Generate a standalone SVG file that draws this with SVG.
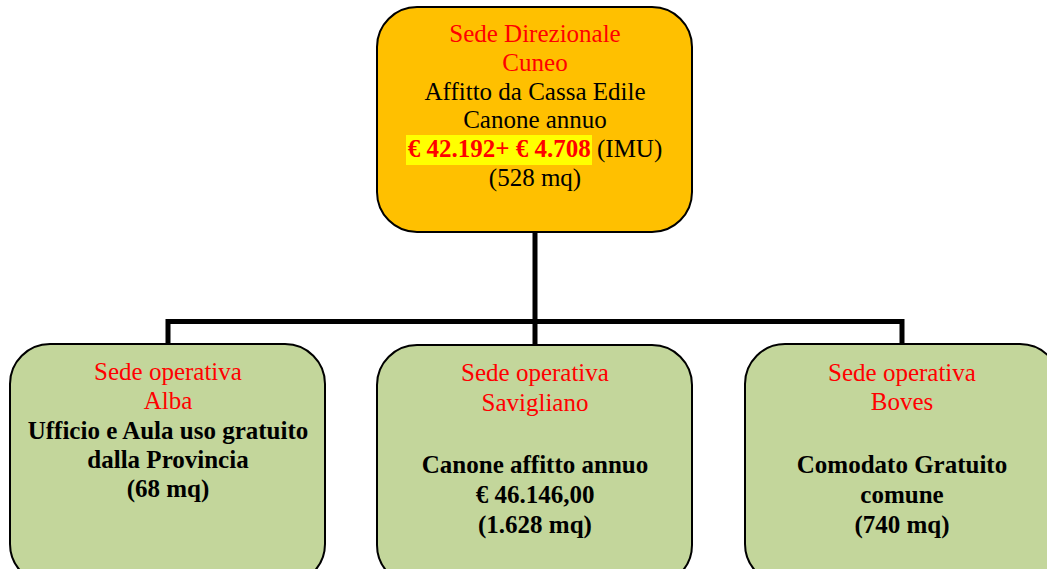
<svg xmlns="http://www.w3.org/2000/svg" width="1047" height="569" viewBox="0 0 1047 569">
<style>
.t{font-family:"Liberation Serif",serif;font-size:25px;text-anchor:middle;fill:#000}
.r{fill:#FF0000}
.b{font-weight:bold}
.box{stroke:#000;stroke-width:2}
.top{fill:#FFC000}
.green{fill:#C3D69B}
.conn{fill:none;stroke:#000;stroke-width:5}
</style>
<rect width="1047" height="569" fill="#fff"/>
<g id="connectors">
<path class="conn" d="M535 232 V345"/>
<path class="conn" d="M168 344 V321.5 H902 V344"/>
</g>
<g id="node-cuneo">
<rect class="box top" x="377" y="7" width="315" height="225" rx="40"/>
<rect x="406" y="135" width="186" height="30" fill="#FFFF00"/>
<text class="t r" x="535" y="42">Sede Direzionale</text>
<text class="t r" x="535" y="71">Cuneo</text>
<text class="t" x="535" y="100">Affitto da Cassa Edile</text>
<text class="t" x="535" y="128">Canone annuo</text>
<text class="t" x="535" y="157"><tspan class="r b">€ 42.192+ € 4.708</tspan> (IMU)</text>
<text class="t" x="535" y="186">(528 mq)</text>
</g>
<g id="node-alba">
<rect class="box green" x="10" y="344" width="315" height="240" rx="40"/>
<text class="t r" x="168" y="380">Sede operativa</text>
<text class="t r" x="168" y="409">Alba</text>
<text class="t b" x="168" y="439">Ufficio e Aula uso gratuito</text>
<text class="t b" x="168" y="468">dalla Provincia</text>
<text class="t b" x="168" y="497">(68 mq)</text>
</g>
<g id="node-savigliano">
<rect class="box green" x="377" y="345" width="315" height="240" rx="40"/>
<text class="t r" x="535" y="381">Sede operativa</text>
<text class="t r" x="535" y="411">Savigliano</text>
<text class="t b" x="535" y="473">Canone affitto annuo</text>
<text class="t b" x="535" y="503">€ 46.146,00</text>
<text class="t b" x="535" y="533">(1.628 mq)</text>
</g>
<g id="node-boves">
<rect class="box green" x="745" y="344" width="315" height="240" rx="40"/>
<text class="t r" x="902" y="381">Sede operativa</text>
<text class="t r" x="902" y="410">Boves</text>
<text class="t b" x="902" y="473">Comodato Gratuito</text>
<text class="t b" x="902" y="503">comune</text>
<text class="t b" x="902" y="533">(740 mq)</text>
</g>
</svg>
